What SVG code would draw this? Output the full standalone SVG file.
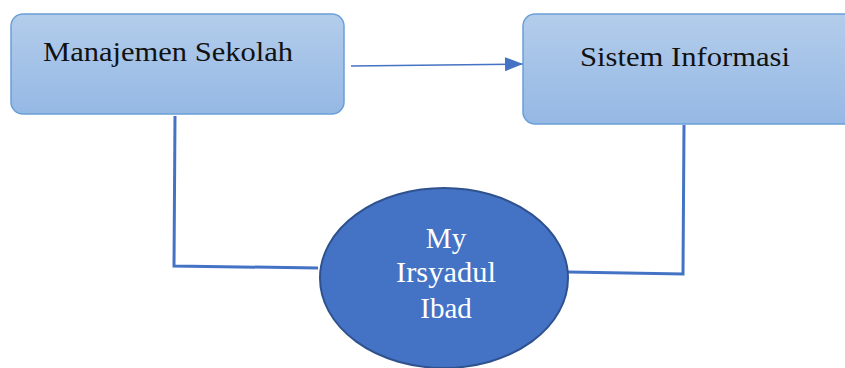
<svg xmlns="http://www.w3.org/2000/svg" width="845" height="368" viewBox="0 0 845 368">
<defs>
<linearGradient id="g" x1="0" y1="0" x2="0" y2="1">
<stop offset="0" stop-color="#B3CDEB"/>
<stop offset="1" stop-color="#95B8E4"/>
</linearGradient>
<marker id="ah" markerWidth="18" markerHeight="14" refX="18" refY="7" orient="auto" markerUnits="userSpaceOnUse" viewBox="0 0 18 14">
<path d="M0,0 L18,7 L0,14 z" fill="#4472C4"/>
</marker>
<style>
.box{fill:url(#g);stroke:#6A9FD8;stroke-width:1.5}
.lbl{font-family:"Liberation Serif",serif;font-size:28px;fill:#111}
.wl{font-family:"Liberation Serif",serif;font-size:29px;fill:#fff;text-anchor:middle}
.conn{fill:none;stroke:#4472C4;stroke-width:3}
</style>
</defs>
<g id="connectors">
<line x1="351" y1="66" x2="523" y2="64" stroke="#4472C4" stroke-width="1.5" marker-end="url(#ah)"/>
<polyline class="conn" points="175,116 174,266 318,268"/>
<polyline class="conn" points="684,125 683,274 568,272"/>
</g>
<g id="manajemen">
<rect class="box" x="11" y="14" width="333" height="100" rx="12"/>
<text class="lbl" x="43" y="61" textLength="250" lengthAdjust="spacingAndGlyphs">Manajemen Sekolah</text>
</g>
<g id="sistem">
<rect class="box" x="523" y="14" width="340" height="110" rx="12"/>
<text class="lbl" x="580" y="66" textLength="210" lengthAdjust="spacingAndGlyphs">Sistem Informasi</text>
</g>
<g id="irsyadul">
<ellipse cx="444" cy="278" rx="124" ry="90" fill="#4472C4" stroke="#2F528F" stroke-width="2"/>
<text class="wl" x="446" y="248">My</text>
<text class="wl" x="446" y="282" textLength="100" lengthAdjust="spacingAndGlyphs">Irsyadul</text>
<text class="wl" x="446" y="318">Ibad</text>
</g>
</svg>
